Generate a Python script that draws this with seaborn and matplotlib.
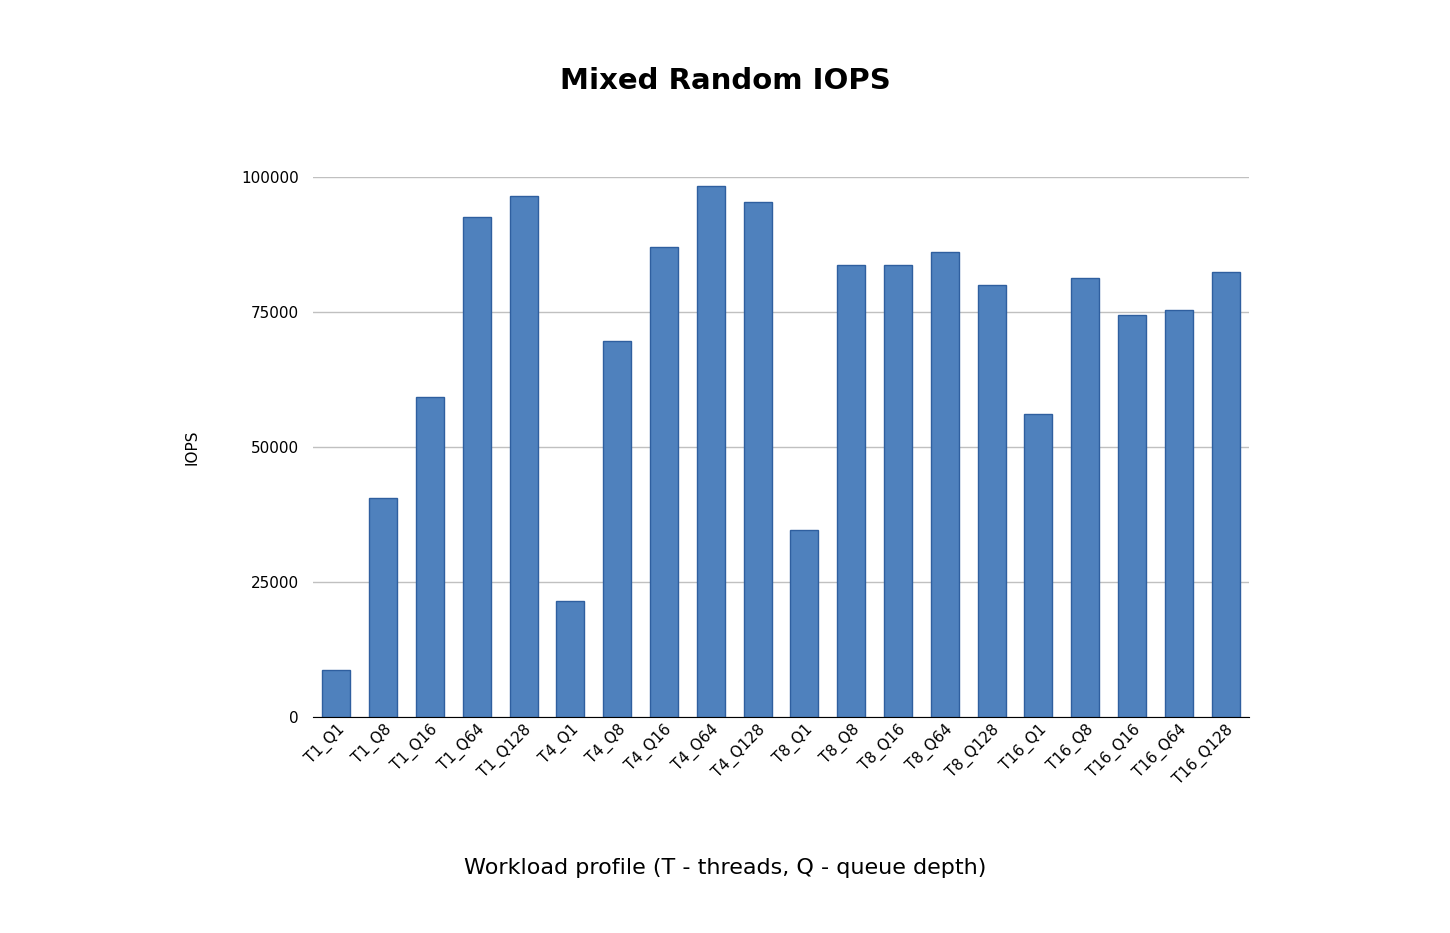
import matplotlib
matplotlib.use("Agg")
import matplotlib.pyplot as plt
import seaborn as sns
import pandas as pd

profiles = ["T1_Q1", "T1_Q8", "T1_Q16", "T1_Q64", "T1_Q128",
            "T4_Q1", "T4_Q8", "T4_Q16", "T4_Q64", "T4_Q128",
            "T8_Q1", "T8_Q8", "T8_Q16", "T8_Q64", "T8_Q128",
            "T16_Q1", "T16_Q8", "T16_Q16", "T16_Q64", "T16_Q128"]
iops = [8700, 40600, 59300, 92600, 96500,
        21500, 69600, 87000, 98300, 95400,
        34600, 83700, 83700, 86100, 80000,
        56100, 81300, 74400, 75400, 82400]

df = pd.DataFrame({"profile": profiles, "iops": iops})

fig = plt.figure(figsize=(14.5, 9.33), dpi=100)
ax = fig.add_axes([313/1450, 1 - 717/933, (1249-313)/1450, (717-177)/933])

sns.barplot(data=df, x="profile", y="iops", color="#4f81bd", edgecolor="#2f5f9f",
            linewidth=1, width=0.6, saturation=1, ax=ax)

ax.set_ylim(0, 100000)
ax.set_yticks([0, 25000, 50000, 75000, 100000])
ax.yaxis.grid(True, color="#c0c0c0", linewidth=1)
ax.set_axisbelow(True)
for s in ["top", "right", "left"]:
    ax.spines[s].set_visible(False)
ax.spines["bottom"].set_color("black")
ax.tick_params(axis="y", length=0, labelsize=11, pad=10)
ax.tick_params(axis="x", length=0, labelsize=11)
plt.setp(ax.get_xticklabels(), rotation=45, ha="right", rotation_mode="anchor")
ax.set_xlabel("")
ax.set_ylabel("IOPS", fontsize=11, labelpad=30)

fig.text(0.5, 1 - 81/933, "Mixed Random IOPS", ha="center", va="center",
         fontsize=21, fontweight="bold")
fig.text(0.5, 1 - 868/933, "Workload profile (T - threads, Q - queue depth)",
         ha="center", va="center", fontsize=16)

fig.savefig("out.png", dpi=100, facecolor="white")
